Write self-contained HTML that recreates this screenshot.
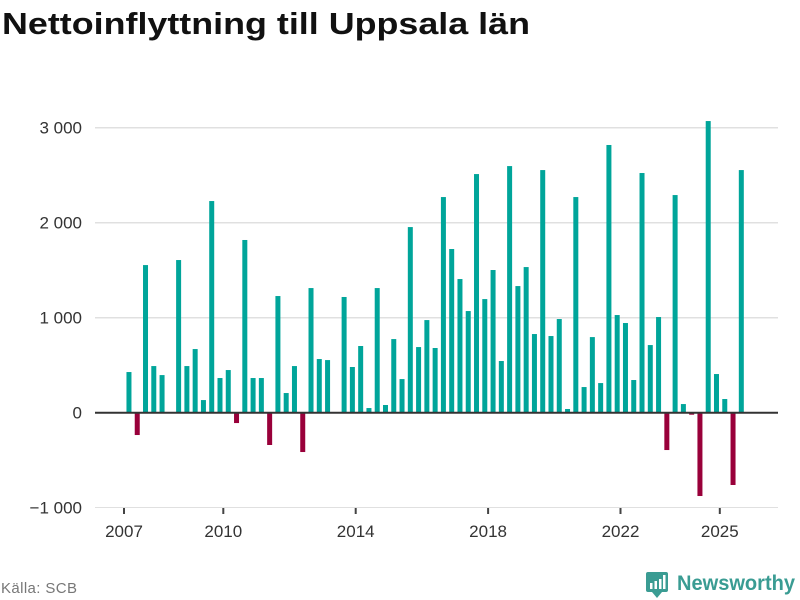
<!DOCTYPE html>
<html><head><meta charset="utf-8"><style>
body{margin:0;background:#fff;font-family:"Liberation Sans",sans-serif;}
#wrap{position:relative;width:800px;height:600px;overflow:hidden;}
</style></head><body>
<div id="wrap">
<svg id="svg" width="800" height="600" xmlns="http://www.w3.org/2000/svg">
<text x="2" y="34" font-size="31" font-weight="bold" fill="#111" textLength="528" lengthAdjust="spacingAndGlyphs" font-family="Liberation Sans, sans-serif">Nettoinflyttning till Uppsala län</text>
<text x="1" y="593" font-size="15" fill="#777" textLength="76">Källa: SCB</text>
<g>
<rect x="646" y="572" width="22" height="20" rx="2" fill="#3a9c93"/>
<polygon points="652,592 662,592 657,598" fill="#3a9c93"/>
<rect x="650" y="583" width="2.5" height="6" fill="#fff"/><rect x="654.5" y="581" width="2.5" height="8" fill="#fff"/><rect x="659" y="579" width="2.5" height="10" fill="#fff"/><rect x="663" y="575" width="2.5" height="14" fill="#fff"/>
<text x="677" y="590" font-size="21" font-weight="bold" fill="#3a9c93" textLength="118" lengthAdjust="spacingAndGlyphs">Newsworthy</text>
</g>
<g id="grid"></g><g id="bars"></g><g id="axes"></g>
</svg>
</div>
<script>
const values=[428,-235,1554,491,396,null,1607,491,670,133,2228,365,449,-109,1818,365,365,-340,1228,207,491,-414,1312,565,554,null,1218,481,702,49,1312,81,775,354,1954,691,975,681,2270,1723,1407,1070,2512,1196,1502,544,2596,1333,1533,828,2554,807,986,39,2270,270,796,312,2818,1028,944,344,2523,712,1007,-393,2291,91,-21,-877,3070,407,144,-761,2554];
const startYear=2007;
const yTicks=[-1000,0,1000,2000,3000];
const yTickLabels=["−1 000","0","1 000","2 000","3 000"];
const xTicks=[2007,2010,2014,2018,2022,2025];
const NS="http://www.w3.org/2000/svg";
const y=v=>412.7-v*0.095;
const x=t=>124+(t-2007)*33.1;
function mk(tag,attrs,parent){const e=document.createElementNS(NS,tag);for(const k in attrs)e.setAttribute(k,attrs[k]);document.getElementById(parent).appendChild(e);return e;}
yTicks.forEach((v,i)=>{
  if(v>0){const g=mk('line',{x1:95,x2:778,y1:y(v),y2:y(v),stroke:'#e0e0e0','stroke-width':1.5},'grid');
  
  }
  const t=mk('text',{x:82,y:y(v)+6,'font-size':17,fill:'#333','text-anchor':'end'},'axes');t.textContent=yTickLabels[i];
  
  
});
const base=mk('line',{x1:95,x2:778,y1:507.5,y2:507.5,stroke:'#e0e0e0','stroke-width':1},'grid');


values.forEach((v,i)=>{
  if(v===null)return;
  const cx=x(startYear+(i+0.6)/4);
  const r=mk('rect',{x:cx-2.5,width:5,y:Math.min(y(v),y(0)),height:Math.abs(y(v)-y(0)),fill:v>=0?'#00a59a':'#99003a'},'bars');
  
  
});
const z=mk('line',{x1:95,x2:778,y1:y(0),y2:y(0),stroke:'#333','stroke-width':2},'axes');


xTicks.forEach(yr=>{
  const tk=mk('line',{x1:x(yr),x2:x(yr),y1:508,y2:514,stroke:'#444','stroke-width':2},'axes');
  
  
  const t=mk('text',{x:x(yr),y:537,'font-size':17,fill:'#333','text-anchor':'middle'},'axes');t.textContent=yr;
  
  
});
</script>
</body></html>
